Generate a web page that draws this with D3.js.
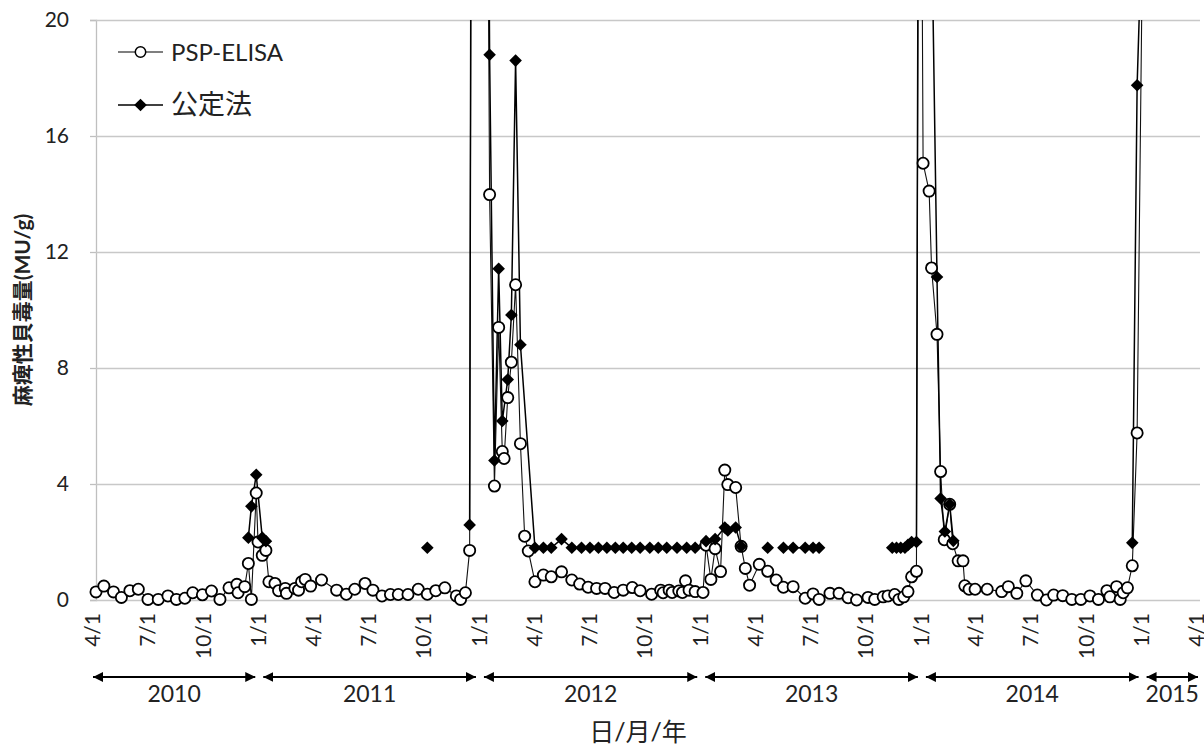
<!DOCTYPE html>
<html>
<head>
<meta charset="utf-8">
<script src="https://cdn.jsdelivr.net/npm/d3@7"></script>
<style>
    body { margin: 0; background: #fff; }
    text { font-family: Lato, "Noto Sans CJK JP", sans-serif; fill: #222; }
</style>
</head>
<body>
<svg id="chart" width="1204" height="746"></svg>
<script>
//
// ***********************************************************************************
//                      DATA
//
// ***********************************************************************************
//

const seriesNames = ["PSP-ELISA", "公定法"];
const yTicks = [0, 4, 8, 12, 16, 20];
const years = [2010, 2011, 2012, 2013, 2014, 2015];
const yTitle = "麻痺性貝毒量(MU/g)";
const xTitle = "日/月/年";

// PSP-ELISA, [sampling date, MU/g]
const elisa = [
    ["2010-04-01", 0.28], ["2010-04-14", 0.48], ["2010-04-30", 0.28], ["2010-05-13", 0.09],
    ["2010-05-27", 0.32], ["2010-06-10", 0.37], ["2010-06-26", 0.02], ["2010-07-13", 0.02],
    ["2010-07-29", 0.14], ["2010-08-12", 0.02], ["2010-08-26", 0.06], ["2010-09-08", 0.25],
    ["2010-09-24", 0.18], ["2010-10-09", 0.31], ["2010-10-23", 0.02], ["2010-11-07", 0.42],
    ["2010-11-20", 0.54], ["2010-11-22", 0.25], ["2010-12-03", 0.46], ["2010-12-09", 1.26],
    ["2010-12-14", 0.02], ["2010-12-22", 3.69], ["2010-12-25", 2.0], ["2011-01-01", 1.54],
    ["2011-01-07", 1.71], ["2011-01-12", 0.63], ["2011-01-22", 0.57], ["2011-01-28", 0.32],
    ["2011-02-08", 0.40], ["2011-02-10", 0.23], ["2011-02-24", 0.40], ["2011-03-02", 0.34],
    ["2011-03-07", 0.63], ["2011-03-13", 0.71], ["2011-03-22", 0.48], ["2011-04-09", 0.69],
    ["2011-05-04", 0.34], ["2011-05-20", 0.20], ["2011-06-03", 0.37], ["2011-06-20", 0.57],
    ["2011-07-03", 0.34], ["2011-07-18", 0.14], ["2011-08-01", 0.19], ["2011-08-14", 0.19],
    ["2011-08-30", 0.19], ["2011-09-16", 0.37], ["2011-10-01", 0.20], ["2011-10-15", 0.32],
    ["2011-10-30", 0.42], ["2011-11-18", 0.14], ["2011-11-25", 0.02], ["2011-12-03", 0.25],
    ["2011-12-10", 1.71], ["2011-12-20", 100], ["2012-01-12", 13.98], ["2012-01-20", 3.93],
    ["2012-01-27", 9.4], ["2012-02-02", 5.12], ["2012-02-05", 4.88], ["2012-02-11", 6.98],
    ["2012-02-17", 8.2], ["2012-02-24", 10.87], ["2012-03-03", 5.39], ["2012-03-10", 2.2],
    ["2012-03-16", 1.69], ["2012-03-27", 0.63], ["2012-04-10", 0.86], ["2012-04-23", 0.8],
    ["2012-05-10", 0.97], ["2012-05-27", 0.69], ["2012-06-09", 0.55], ["2012-06-23", 0.44],
    ["2012-07-07", 0.40], ["2012-07-21", 0.40], ["2012-08-05", 0.26], ["2012-08-20", 0.34],
    ["2012-09-04", 0.43], ["2012-09-17", 0.32], ["2012-10-06", 0.20], ["2012-10-21", 0.34],
    ["2012-10-25", 0.25], ["2012-11-04", 0.34], ["2012-11-09", 0.26], ["2012-11-20", 0.31],
    ["2012-11-26", 0.26], ["2012-12-01", 0.66], ["2012-12-07", 0.34], ["2012-12-17", 0.29],
    ["2012-12-30", 0.26], ["2013-01-04", 1.89], ["2013-01-12", 0.71], ["2013-01-19", 1.77],
    ["2013-01-28", 0.98], ["2013-02-04", 4.48], ["2013-02-09", 3.98], ["2013-02-22", 3.88],
    ["2013-03-03", 1.85], ["2013-03-10", 1.09], ["2013-03-17", 0.51], ["2013-04-02", 1.23],
    ["2013-04-16", 0.99], ["2013-04-30", 0.69], ["2013-05-12", 0.44], ["2013-05-28", 0.46],
    ["2013-06-17", 0.06], ["2013-06-30", 0.21], ["2013-07-10", 0.02], ["2013-07-28", 0.23],
    ["2013-08-12", 0.23], ["2013-08-27", 0.08], ["2013-09-10", 0.0], ["2013-09-29", 0.09],
    ["2013-10-10", 0.02], ["2013-10-24", 0.11], ["2013-11-01", 0.14], ["2013-11-12", 0.19],
    ["2013-11-19", 0.02], ["2013-11-27", 0.11], ["2013-12-04", 0.29], ["2013-12-10", 0.8],
    ["2013-12-18", 0.99], ["2013-12-23", 40], ["2013-12-29", 15.06], ["2014-01-08", 14.1],
    ["2014-01-12", 11.45], ["2014-01-21", 9.16], ["2014-01-27", 4.43], ["2014-02-02", 2.08],
    ["2014-02-11", 3.3], ["2014-02-16", 1.94], ["2014-02-25", 1.35], ["2014-03-05", 1.35],
    ["2014-03-08", 0.49], ["2014-03-15", 0.37], ["2014-03-25", 0.37], ["2014-04-14", 0.37],
    ["2014-05-08", 0.29], ["2014-05-19", 0.46], ["2014-06-02", 0.23], ["2014-06-17", 0.66],
    ["2014-07-06", 0.17], ["2014-07-21", 0.0], ["2014-08-02", 0.17], ["2014-08-17", 0.15],
    ["2014-09-01", 0.02], ["2014-09-16", 0.02], ["2014-10-01", 0.14], ["2014-10-15", 0.02],
    ["2014-10-29", 0.32], ["2014-11-03", 0.11], ["2014-11-14", 0.46], ["2014-11-20", 0.02],
    ["2014-11-25", 0.25], ["2014-12-02", 0.42], ["2014-12-10", 1.18], ["2014-12-18", 5.76],
    ["2015-01-05", 40]
];

// 公定法 (mouse assay), null = not measured (gap in the line)
const official = [
    ["2010-12-09", 2.15], ["2010-12-14", 3.23], ["2010-12-22", 4.32], ["2011-01-01", 2.15],
    ["2011-01-07", 2.03], ["2011-05-01", null],
    ["2011-10-01", 1.8], ["2011-11-01", null],
    ["2011-12-10", 2.59], ["2011-12-20", 100], ["2012-01-12", 18.8], ["2012-01-20", 4.81],
    ["2012-01-27", 11.42], ["2012-02-02", 6.17], ["2012-02-11", 7.6], ["2012-02-17", 9.83],
    ["2012-02-24", 18.6], ["2012-03-03", 8.8], ["2012-03-27", 1.8], ["2012-04-10", 1.8],
    ["2012-04-23", 1.8], ["2012-05-10", 2.1], ["2012-05-27", 1.8], ["2012-06-12", 1.8],
    ["2012-06-26", 1.8], ["2012-07-10", 1.8], ["2012-07-24", 1.8], ["2012-08-07", 1.8],
    ["2012-08-20", 1.8], ["2012-09-03", 1.8], ["2012-09-17", 1.8], ["2012-10-03", 1.8],
    ["2012-10-17", 1.8], ["2012-10-31", 1.8], ["2012-11-17", 1.8], ["2012-12-03", 1.8],
    ["2012-12-17", 1.8], ["2013-01-04", 2.03], ["2013-01-19", 2.1], ["2013-02-04", 2.5],
    ["2013-02-09", 2.4], ["2013-02-22", 2.5], ["2013-03-03", 1.85], ["2013-03-25", null],
    ["2013-04-16", 1.8], ["2013-04-30", null],
    ["2013-05-12", 1.8], ["2013-05-28", 1.8], ["2013-06-17", 1.8], ["2013-06-30", 1.8],
    ["2013-07-10", 1.8], ["2013-09-01", null],
    ["2013-11-08", 1.8], ["2013-11-15", 1.8], ["2013-11-22", 1.8], ["2013-11-29", 1.8],
    ["2013-12-04", 1.9], ["2013-12-10", 2.0], ["2013-12-18", 2.0], ["2013-12-24", 50],
    ["2014-01-21", 11.14], ["2014-01-27", 3.5], ["2014-02-03", 2.36], ["2014-02-11", 3.3],
    ["2014-02-17", 2.04], ["2014-06-01", null],
    ["2014-12-10", 1.97], ["2014-12-18", 17.75], ["2015-01-05", 30]
];

//
// ***********************************************************************************
//                      CHART
//
// ***********************************************************************************
//

const svg = d3.select("#chart");
const parse = d3.timeParse("%Y-%m-%d");
const plot = { left: 96, right: 1200, top: 20, bottom: 600 };

const x = d3.scaleTime()
    .domain([parse("2010-04-01"), parse("2015-04-01")])
    .range([plot.left, plot.right]);
const y = d3.scaleLinear()
    .domain([0, 20])
    .range([plot.bottom, plot.top]);

const elisaPts = elisa.map(d => ({ date: parse(d[0]), value: d[1] }));
const officialPts = official.map(d => ({ date: parse(d[0]), value: d[1] }));

// Clip lines to the plot area (markers above 20 are simply dropped).
svg.append("defs").append("clipPath")
    .attr("id", "plot-clip")
    .append("rect")
        .attr("x", plot.left)
        .attr("y", plot.top)
        .attr("width", plot.right - plot.left + 4)
        .attr("height", plot.bottom - plot.top);

// Horizontal gridlines + y axis.
svg.append("g")
    .attr("transform", `translate(${plot.left},0)`)
    .call(d3.axisLeft(y).tickValues(yTicks).tickSize(6).tickPadding(21))
    .call(g => g.select(".domain").attr("stroke", "#bfbfbf").attr("stroke-width", 1.3))
    .call(g => g.selectAll(".tick line").attr("stroke", "#bfbfbf").attr("stroke-width", 1.3))
    .call(g => g.selectAll(".tick").append("line")
        .attr("x2", plot.right - plot.left)
        .attr("stroke", "#c8c8c8")
        .attr("stroke-width", 1.3))
    .call(g => g.selectAll(".tick text")
        .attr("font-size", 21)
        .attr("font-family", "Lato, sans-serif")
        .attr("fill", "#222"));

// X axis: labels every three months, rotated.
svg.append("g")
    .attr("transform", `translate(0,${plot.bottom})`)
    .call(d3.axisBottom(x)
        .ticks(d3.timeMonth.every(3))
        .tickSize(0)
        .tickFormat(d3.timeFormat("%-m/%-d")))
    .call(g => g.select(".domain").remove())
    .call(g => g.selectAll(".tick text")
        .attr("transform", "rotate(-90)")
        .attr("text-anchor", "end")
        .attr("x", -13)
        .attr("y", -4)
        .attr("dy", "0.35em")
        .attr("font-size", 21)
        .attr("font-family", "Lato, sans-serif")
        .attr("fill", "#222"));

// Year spans with double-headed arrows.
const defs = svg.select("defs");
defs.append("marker")
    .attr("id", "arrow-end")
    .attr("viewBox", "0 0 10 10")
    .attr("refX", 10).attr("refY", 5)
    .attr("markerUnits", "userSpaceOnUse")
    .attr("markerWidth", 10).attr("markerHeight", 11)
    .attr("orient", "auto")
    .append("path").attr("d", "M0,0L10,5L0,10Z").attr("fill", "#000");
defs.append("marker")
    .attr("id", "arrow-start")
    .attr("viewBox", "0 0 10 10")
    .attr("refX", 0).attr("refY", 5)
    .attr("markerUnits", "userSpaceOnUse")
    .attr("markerWidth", 10).attr("markerHeight", 11)
    .attr("orient", "auto")
    .append("path").attr("d", "M10,0L0,5L10,10Z").attr("fill", "#000");

const yearSpans = years.map((yr, i) => {
    const s = Math.max(+new Date(yr, 0, 1), +x.domain()[0]);
    const e = Math.min(+new Date(yr + 1, 0, 1), +x.domain()[1]);
    const x1 = i === 0 ? x(s) - 3 : x(s) + 1;
    const x2 = i === years.length - 1 ? x(e) - 2 : x(e) - 7;
    return { year: yr, x1, x2 };
});

const spans = svg.append("g").selectAll("g")
    .data(yearSpans)
    .join("g");
spans.append("line")
    .attr("x1", d => d.x1).attr("x2", d => d.x2)
    .attr("y1", 677).attr("y2", 677)
    .attr("stroke", "#000")
    .attr("stroke-width", 2.2)
    .attr("marker-start", "url(#arrow-start)")
    .attr("marker-end", "url(#arrow-end)");
spans.append("text")
    .attr("x", d => (d.x1 + d.x2) / 2)
    .attr("y", 702)
    .attr("text-anchor", "middle")
    .attr("font-size", 23)
    .text(d => d.year);

// Axis titles.
svg.append("text")
    .attr("transform", "translate(30,310) rotate(-90)")
    .attr("text-anchor", "middle")
    .attr("font-size", 21)
    .attr("font-weight", "bold")
    .text(yTitle);
svg.append("text")
    .attr("x", 638)
    .attr("y", 741)
    .attr("text-anchor", "middle")
    .attr("font-size", 25)
    .text(xTitle);

// Series lines.
const line = d3.line()
    .defined(d => d.value !== null)
    .x(d => x(d.date))
    .y(d => y(d.value));

const lines = svg.append("g").attr("clip-path", "url(#plot-clip)");
lines.append("path")
    .datum(elisaPts)
    .attr("d", line)
    .attr("fill", "none")
    .attr("stroke", "#111")
    .attr("stroke-width", 1.1);
lines.append("path")
    .datum(officialPts)
    .attr("d", line)
    .attr("fill", "none")
    .attr("stroke", "#000")
    .attr("stroke-width", 1.5);

// Markers.
const diamond = "M0,-6.3L6.3,0L0,6.3L-6.3,0Z";
const inRange = d => d.value !== null && d.value <= 20;

svg.append("g")
    .selectAll("circle")
    .data(elisaPts.filter(inRange))
    .join("circle")
        .attr("cx", d => x(d.date))
        .attr("cy", d => y(d.value))
        .attr("r", 5.6)
        .attr("fill", "#fff")
        .attr("stroke", "#000")
        .attr("stroke-width", 1.8);

svg.append("g")
    .selectAll("path")
    .data(officialPts.filter(inRange))
    .join("path")
        .attr("transform", d => `translate(${x(d.date)},${y(d.value)})`)
        .attr("d", diamond)
        .attr("fill", "#000");

// Legend.
const legend = svg.append("g");
const legendRows = [
    { name: seriesNames[0], y: 52, size: 24 },
    { name: seriesNames[1], y: 105, size: 27 }
];
legend.selectAll("line")
    .data(legendRows)
    .join("line")
        .attr("x1", 118).attr("x2", 163)
        .attr("y1", d => d.y).attr("y2", d => d.y)
        .attr("stroke", "#000")
        .attr("stroke-width", (d, i) => i === 0 ? 1.1 : 1.5);
legend.append("circle")
    .attr("cx", 140.5).attr("cy", legendRows[0].y)
    .attr("r", 5.2)
    .attr("fill", "#fff")
    .attr("stroke", "#000")
    .attr("stroke-width", 1.5);
legend.append("path")
    .attr("transform", `translate(140.5,${legendRows[1].y})`)
    .attr("d", diamond)
    .attr("fill", "#000");
legend.selectAll("text")
    .data(legendRows)
    .join("text")
        .attr("x", 171)
        .attr("y", d => d.y + 9)
        .attr("font-size", d => d.size)
        .text(d => d.name);
</script>
</body>
</html>
